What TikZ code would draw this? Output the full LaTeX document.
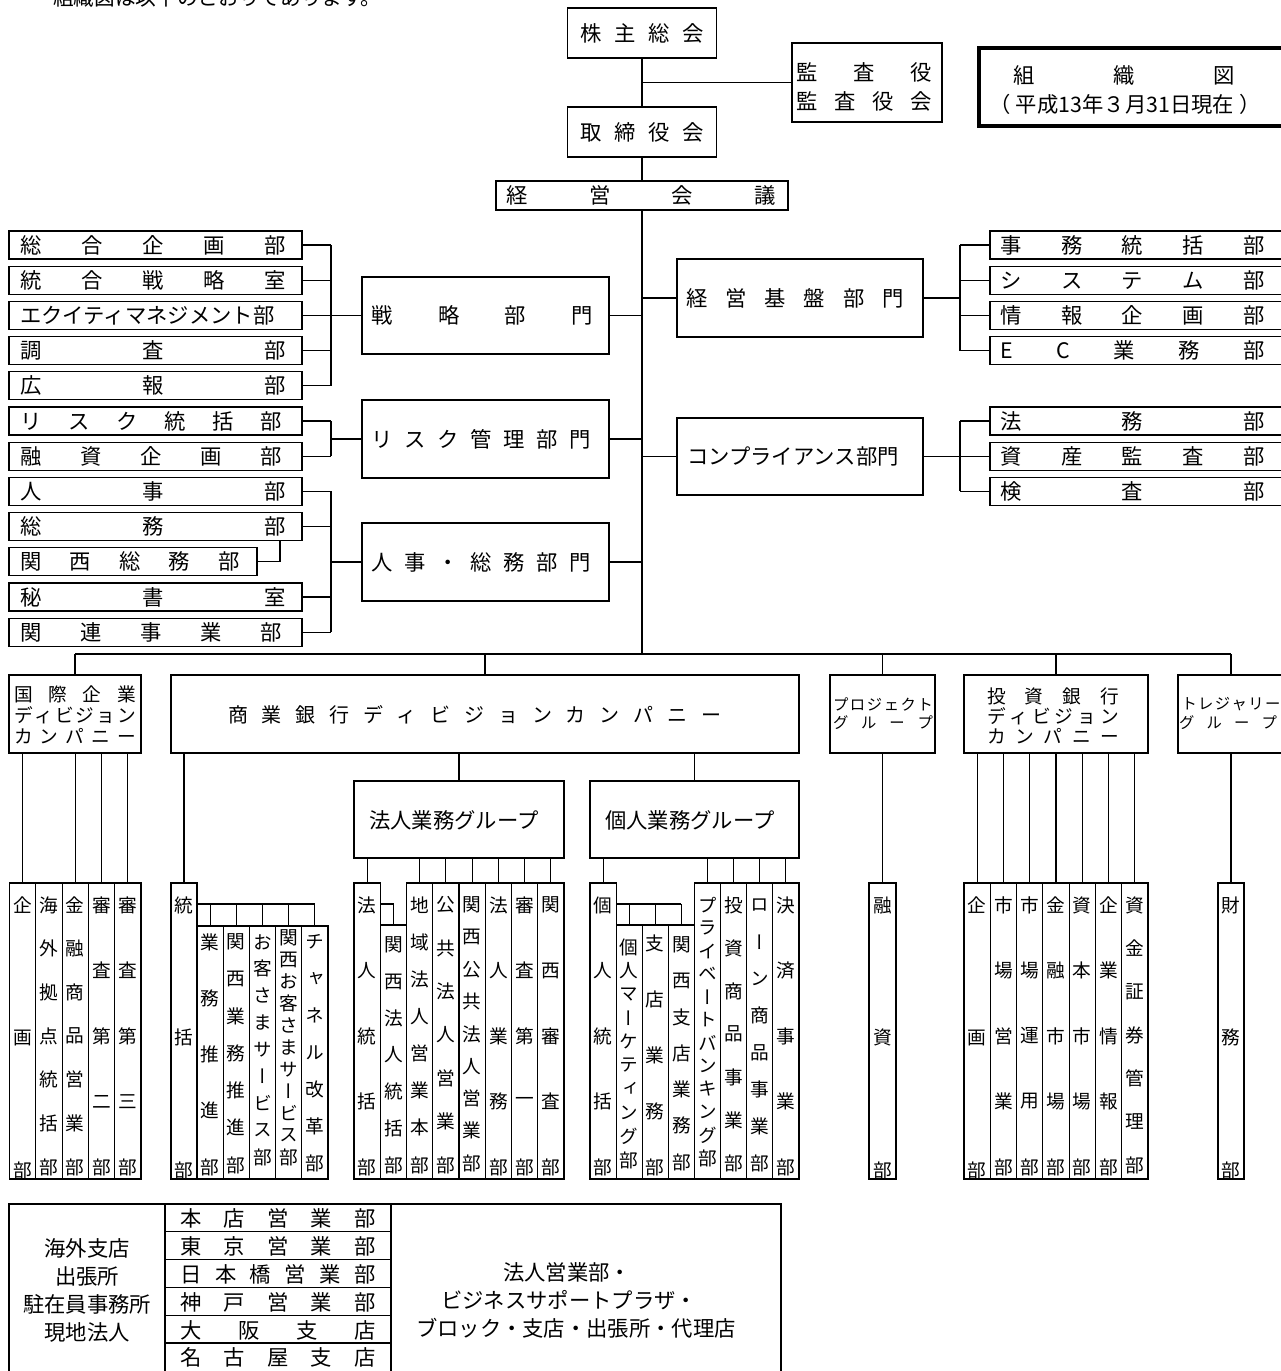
\documentclass[tikz,border=0pt]{standalone}
\usepackage{fontspec}
\setmainfont{Noto Sans CJK JP}
\newfontfamily\vjp[RawFeature=+vert]{Noto Sans CJK JP}
\newlength\upx
\setlength\upx{0.75pt}
\def\spr#1{\sprA#1\relax}
\def\sprA#1#2{#1\ifx\relax#2\else\hfill\expandafter\sprA\fi#2}
\tikzset{
 box/.style={draw, line width=0.8pt, rectangle, inner sep=0pt, outer sep=0pt},
 thickbox/.style={box, line width=2.4pt},
 t16/.style={inner sep=0pt, font=\fontsize{16}{19}\selectfont},
 t15/.style={inner sep=0pt, font=\fontsize{15}{18}\selectfont},
 t14/.style={inner sep=0pt, font=\fontsize{14}{16}\selectfont},
 t11/.style={inner sep=0pt, font=\fontsize{11.5}{13}\selectfont},
 vch/.style={inner sep=0pt, font=\vjp\fontsize{14}{16}\selectfont},
 link/.style={line width=0.8pt},
}
% box: [style]{name}{x1}{y1}{x2}{y2}
\newcommand\bx[6][box]{\node[#1, minimum width={(#5-#3)*0.75pt}, minimum height={(#6-#4)*0.75pt}] (#2) at ({(#3+#5)/2},{(#4+#6)/2}) {};}
% justified text: [style]{name}{cx}{cy}{width}{text}
\newcommand\jt[6][t16]{\node[#1] (#2) at (#3,#4) {\makebox[#5\upx][s]{\spr{#6}}};}
% vertical column: {name}{x1}{x2}{ytop}{yfirst}{ylast}{list}
\newcommand\vcol[7]{%
 \node[box, minimum width={(#3-#2)*0.75pt}, minimum height={(1179-#4)*0.75pt}] (#1) at ({(#2+#3)/2},{(#4+1179)/2}) {};
 \foreach \cc [count=\ii] in {#7} {\xdef\vn{\ii}}
 \foreach \cc [count=\ii] in {#7} {\node[vch] (#1-\ii) at ({(#2+#3)/2},{#5+(\ii-1)*(#6-#5)/(\vn-1)}) {\cc};}
}
\begin{document}
\begin{tikzpicture}[x=0.75pt,y=-0.75pt]
\useasboundingbox (0,0) rectangle (1281,1371);
\fill[white] (0,0) rectangle (1281,1371);
\clip (0,0) rectangle (1281,1371);

\node[anchor=base west, inner sep=0pt, font=\fontsize{15.5}{18}\selectfont] (intro) at (53,5) {組織図は以下のとおりであります。};

% ---------- top ----------
\coordinate (T) at (642,654);
\bx{kabu}{567.5}{8}{716.5}{58}
\jt{tkabu}{642}{33}{124}{株主総会}
\bx{tori}{567.5}{107}{716.5}{157}
\jt{ttori}{642}{132}{124}{取締役会}
\bx{keiei}{496}{181}{788}{210}
\jt{tkeiei}{641}{195.5}{269}{経営会議}
\bx{kansa}{792}{43}{942}{122}
\jt{tkansa1}{864}{72}{135}{監査役}
\jt{tkansa2}{864}{101}{135}{監査役会}
\bx[thickbox]{soshiki}{979}{48}{1300}{126}
\jt{tsosh1}{1124}{75}{221}{組織図}
\node[t16] (tsosh2) at (1125,104) {（\hspace{4pt}平成13年３月31日現在\hspace{4pt}）};

\draw[link] (kabu.south) -- (tori.north);
\draw[link] (tori.south) -- (keiei.north);
\draw[link] (keiei.south) -- (T);
\draw[link] (kansa.west) -- (kansa.west -| T);

% ---------- left departments ----------
\coordinate (BL) at (331,0);
\coordinate (ks) at (280,0);
\bx{sogo}{9}{231}{302}{259}
\bx{togo}{9}{266.2}{302}{294.2}
\bx{equity}{9}{301.4}{302}{329.4}
\bx{chosa}{9}{336.6}{302}{364.6}
\bx{koho}{9}{371.8}{302}{399.8}
\bx{risk}{9}{407}{302}{435}
\bx{yushi}{9}{442.2}{302}{470.2}
\bx{jinji}{9}{477.4}{302}{505.4}
\bx{somu}{9}{512.6}{302}{540.6}
\bx{kansom}{9}{547.8}{257}{575.8}
\bx{hisho}{9}{583}{302}{611}
\bx{kanren}{9}{618.2}{302}{646.2}
\jt{tsogo}{153}{245}{266}{総合企画部}
\jt{ttogo}{153}{280.2}{266}{統合戦略室}
\node[t16, anchor=west] (tequity) at (20,315.4) {エクイティマネジメント部};
\jt{tchosa}{153}{350.6}{266}{調査部}
\jt{tkoho}{153}{385.8}{266}{広報部}
\jt{trisk}{151}{421}{262}{リスク統括部}
\jt{tyushi}{151}{456.2}{262}{融資企画部}
\jt{tjinji}{153}{491.4}{266}{人事部}
\jt{tsomu}{153}{526.6}{266}{総務部}
\jt{tkansom}{130}{561.8}{219}{関西総務部}
\jt{thisho}{153}{597}{266}{秘書室}
\jt{tkanren}{151}{632.2}{262}{関連事業部}

\bx{senryaku}{362}{277}{609}{354}
\jt{tsenryaku}{482}{315.5}{221}{戦略部門}
\bx{riskdiv}{362}{400}{609}{478}
\jt{triskdiv}{481}{439}{219}{リスク管理部門}
\bx{jinjidiv}{362}{523}{609}{601}
\jt{tjinjidiv}{481}{562}{219}{人事・総務部門}

\foreach \n in {sogo,togo,equity,chosa,koho,risk,yushi,jinji,somu,hisho,kanren}
  \draw[link] (\n.east) -- (\n.east -| BL);
\draw[link] (sogo.east -| BL) -- (koho.east -| BL);
\draw[link] (risk.east -| BL) -- (yushi.east -| BL);
\draw[link] (jinji.east -| BL) -- (kanren.east -| BL);
\draw[link] (kansom.east) -| (ks |- somu.south);
\draw[link] (BL |- senryaku.west) -- (senryaku.west);
\draw[link] (BL |- riskdiv.west) -- (riskdiv.west);
\draw[link] (BL |- jinjidiv.west) -- (jinjidiv.west);
\draw[link] (senryaku.east) -- (senryaku.east -| T);
\draw[link] (riskdiv.east) -- (riskdiv.east -| T);
\draw[link] (jinjidiv.east) -- (jinjidiv.east -| T);

% ---------- right departments ----------
\coordinate (BR) at (960,0);
\bx{kiban}{677}{259}{923}{337}
\jt{tkiban}{795}{298}{217}{経営基盤部門}
\bx{comp}{677}{418}{923}{495}
\node[t16] (tcomp) at (793,456.5) {コンプライアンス部門};
\bx{jimu}{990}{231}{1300}{259}
\bx{system}{990}{266.2}{1300}{294.2}
\bx{johok}{990}{301.4}{1300}{329.4}
\bx{ec}{990}{336.6}{1300}{364.6}
\bx{homu}{990}{407}{1300}{435}
\bx{shisan}{990}{442.2}{1300}{470.2}
\bx{kensa}{990}{477.4}{1300}{505.4}
\jt{tjimu}{1132.5}{245}{264}{事務統括部}
\jt{tsystem}{1132.5}{280.2}{264}{システム部}
\jt{tjohok}{1132.5}{315.4}{264}{情報企画部}
\jt{tec}{1132.5}{350.6}{264}{EC業務部}
\jt{thomu}{1132.5}{421}{264}{法務部}
\jt{tshisan}{1132.5}{456.2}{264}{資産監査部}
\jt{tkensa}{1132.5}{491.4}{264}{検査部}
\foreach \n in {jimu,system,johok,ec,homu,shisan,kensa}
  \draw[link] (\n.west) -- (\n.west -| BR);
\draw[link] (jimu.west -| BR) -- (ec.west -| BR);
\draw[link] (homu.west -| BR) -- (kensa.west -| BR);
\draw[link] (kiban.east) -- (kiban.east -| BR);
\draw[link] (comp.east) -- (comp.east -| BR);
\draw[link] (kiban.west) -- (kiban.west -| T);
\draw[link] (comp.west) -- (comp.west -| T);

% ---------- companies ----------
\bx{kokusai}{9}{675}{141}{753}
\jt[t14]{tkok1}{75}{694}{122}{国際企業}
\jt[t14]{tkok2}{75}{715}{122}{ディビジョン}
\jt[t14]{tkok3}{75}{736}{122}{カンパニー}
\bx{shogyo}{171}{675}{799}{753}
\jt[t15]{tshogyo}{474.5}{715}{493}{商業銀行ディビジョンカンパニー}
\bx{pj}{830}{675}{935}{753}
\jt[t11]{tpj1}{883}{704}{100}{プロジェクト}
\jt[t11]{tpj2}{883}{723}{100}{グループ}
\bx{toshi}{964}{675}{1148}{753}
\jt[t14]{ttoshi1}{1053}{696}{132}{投資銀行}
\jt[t14]{ttoshi2}{1053}{716}{132}{ディビジョン}
\jt[t14]{ttoshi3}{1053}{736}{132}{カンパニー}
\bx{treas}{1178}{675}{1284}{753}
\jt[t11]{ttreas1}{1231}{704}{99}{トレジャリー}
\jt[t11]{ttreas2}{1228}{723}{98}{グループ}

\draw[link] (kokusai.north |- T) -- (treas.north |- T);
\foreach \n in {kokusai,shogyo,pj,toshi,treas}
  \draw[link] (\n.north) -- (\n.north |- T);

\bx{hojin}{354}{781}{564}{858}
\node[t16] (thojin) at (454,820) {法人業務グループ};
\bx{kojin}{590}{781}{799}{858}
\node[t16] (tkojin) at (690,820) {個人業務グループ};
\draw[link] (hojin.north) -- (hojin.north |- shogyo.south);
\draw[link] (kojin.north) -- (kojin.north |- shogyo.south);

% ---------- columns ----------
\coordinate (yb) at (0,904);
\vcol{K1}{9.5}{35.8}{883}{905}{1170}{企,画,部}
\vcol{K2}{35.8}{62.1}{883}{905}{1167}{海,外,拠,点,統,括,部}
\vcol{K3}{62.1}{88.4}{883}{905}{1167}{金,融,商,品,営,業,部}
\vcol{K4}{88.4}{114.7}{883}{905}{1167}{審,査,第,二,部}
\vcol{K5}{114.7}{141}{883}{905}{1167}{審,査,第,三,部}
\foreach \n in {K1,K3,K4,K5}
  \draw[link] (\n.north) -- (\n.north |- kokusai.south);

\vcol{S0}{171}{197}{883}{905}{1170}{統,括,部}
\vcol{S1}{197}{223.2}{926}{942}{1167}{業,務,推,進,部}
\vcol{S2}{223.2}{249.4}{926}{942}{1165}{関,西,業,務,推,進,部}
\vcol{S3}{249.4}{275.6}{926}{942}{1157}{お,客,さ,ま,サ,ー,ビ,ス,部}
\vcol{S4}{275.6}{301.8}{926}{938}{1157}{関,西,お,客,さ,ま,サ,ー,ビ,ス,部}
\vcol{S5}{301.8}{328}{926}{942}{1163}{チ,ャ,ネ,ル,改,革,部}
\draw[link] (S0.north) -- (S0.north |- shogyo.south);
\draw[link] (S0.east |- yb) -- (S5.north |- yb);
\foreach \n in {S1,S2,S3,S4,S5}
  \draw[link] (\n.north) -- (\n.north |- yb);

\vcol{H1}{354}{380.25}{883}{905}{1167}{法,人,統,括,部}
\vcol{H2}{380.25}{406.5}{925}{945}{1165}{関,西,法,人,統,括,部}
\vcol{H3}{406.5}{432.75}{883}{905}{1165}{地,域,法,人,営,業,本,部}
\vcol{H4}{432.75}{459}{883}{905}{1165}{公,共,法,人,営,業,部}
\vcol{H5}{459}{485.25}{883}{905}{1163}{関,西,公,共,法,人,営,業,部}
\vcol{H6}{485.25}{511.5}{883}{905}{1167}{法,人,業,務,部}
\vcol{H7}{511.5}{537.75}{883}{905}{1167}{審,査,第,一,部}
\vcol{H8}{537.75}{564}{883}{905}{1167}{関,西,審,査,部}
\foreach \n in {H1,H3,H4,H5,H6,H7,H8}
  \draw[link] (\n.north) -- (\n.north |- hojin.south);
\draw[link] (H1.east |- yb) -| (H2.north);

\vcol{P1}{590}{616.1}{883}{905}{1167}{個,人,統,括,部}
\vcol{P2}{616.1}{642.25}{925}{947}{1160}{個,人,マ,ー,ケ,テ,ィ,ン,グ,部}
\vcol{P3}{642.25}{668.4}{925}{943}{1167}{支,店,業,務,部}
\vcol{P4}{668.4}{694.5}{925}{945}{1162}{関,西,支,店,業,務,部}
\vcol{P5}{694.5}{720.6}{883}{905}{1158}{プ,ラ,イ,ベ,ー,ト,バ,ン,キ,ン,グ,部}
\vcol{P6}{720.6}{746.75}{883}{905}{1163}{投,資,商,品,事,業,部}
\vcol{P7}{746.75}{772.9}{883}{905}{1163}{ロ,ー,ン,商,品,事,業,部}
\vcol{P8}{772.9}{799}{883}{905}{1167}{決,済,事,業,部}
\foreach \n in {P1,P5,P6,P7,P8}
  \draw[link] (\n.north) -- (\n.north |- kojin.south);
\draw[link] (P1.east |- yb) -- (P4.north |- yb);
\foreach \n in {P2,P3,P4}
  \draw[link] (\n.north) -- (\n.north |- yb);

\vcol{J1}{869}{896}{883}{905}{1170}{融,資,部}
\draw[link] (J1.north) -- (J1.north |- pj.south);

\vcol{I1}{964}{990.3}{883}{905}{1170}{企,画,部}
\vcol{I2}{990.3}{1016.6}{883}{905}{1167}{市,場,営,業,部}
\vcol{I3}{1016.6}{1042.9}{883}{905}{1167}{市,場,運,用,部}
\vcol{I4}{1042.9}{1069.1}{883}{905}{1167}{金,融,市,場,部}
\vcol{I5}{1069.1}{1095.4}{883}{905}{1167}{資,本,市,場,部}
\vcol{I6}{1095.4}{1121.7}{883}{905}{1167}{企,業,情,報,部}
\vcol{I7}{1121.7}{1148}{883}{905}{1165}{資,金,証,券,管,理,部}
\foreach \n in {I1,I2,I3,I4,I5,I6,I7}
  \draw[link] (\n.north) -- (\n.north |- toshi.south);

\vcol{T1}{1218}{1244}{883}{905}{1170}{財,務,部}
\draw[link] (T1.north) -- (T1.north |- treas.south);

% ---------- bottom table ----------
\bx{btl}{9}{1204}{165}{1385}
\bx{btr}{391}{1204}{781}{1385}
\bx{br1}{165}{1204}{391}{1231.8}
\bx{br2}{165}{1231.8}{391}{1259.6}
\bx{br3}{165}{1259.6}{391}{1287.4}
\bx{br4}{165}{1287.4}{391}{1315.2}
\bx{br5}{165}{1315.2}{391}{1343}
\bx{br6}{165}{1343}{391}{1385}
\node[t16] (tbl1) at (87,1248) {海外支店};
\node[t16] (tbl2) at (87,1276) {出張所};
\node[t16] (tbl3) at (87,1304) {駐在員事務所};
\node[t16] (tbl4) at (87,1332) {現地法人};
\jt{tbr1}{278}{1218}{195}{本店営業部}
\jt{tbr2}{278}{1246}{195}{東京営業部}
\jt{tbr3}{278}{1274}{195}{日本橋営業部}
\jt{tbr4}{278}{1302}{195}{神戸営業部}
\jt{tbr5}{278}{1330}{195}{大阪支店}
\jt{tbr6}{278}{1357}{195}{名古屋支店}
\node[t16] (tbx1) at (567,1272) {法人営業部・};
\node[t16] (tbx2) at (569,1300) {ビジネスサポートプラザ・};
\node[t16] (tbx3) at (576,1328) {ブロック・支店・出張所・代理店};
\end{tikzpicture}
\end{document}
